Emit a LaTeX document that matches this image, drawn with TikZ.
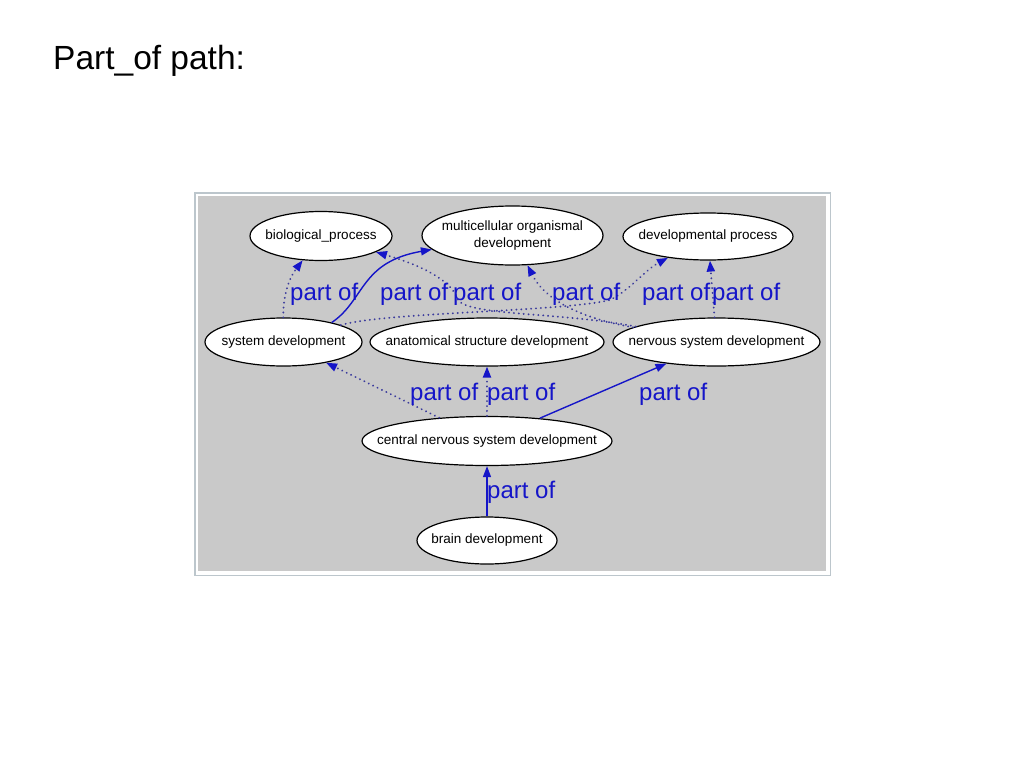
\documentclass[tikz,border=0pt]{standalone}
\usepackage{fontspec}
\setmainfont{Liberation Sans}
\usepackage{tikz}
\usetikzlibrary{shapes.geometric}
\usetikzlibrary{arrows.meta}
\tikzstyle{term} = [ellipse, draw=black, fill=white, line width=1.2pt, inner sep=0pt, font=\fontsize{13.5}{16.5}\selectfont]
\tikzstyle{po} = [lb, line width=1.4pt, -{Triangle[length=11pt,width=8pt]}]
\tikzstyle{pod} = [db, line width=2pt, dash pattern=on 0.1pt off 4.8pt, line cap=round, -{Triangle[length=11pt,width=8pt,color=lb]}]
\tikzstyle{lab} = [lb, inner sep=0pt, anchor=base west, font=\fontsize{24}{28}\selectfont]
\definecolor{lb}{HTML}{1515C8}
\definecolor{db}{HTML}{3A3A9C}
\definecolor{pnl}{HTML}{C9C9C9}
\definecolor{frm}{HTML}{BCC6CC}
\newcommand{\tm}[1]{\makebox[0pt]{#1}}

\begin{document}
\begin{tikzpicture}[x=1pt,y=-1pt]
			\fill[white] (0,0) rectangle (1024,768);
			\useasboundingbox (0,0) rectangle (1024,768);
			\node[anchor=base west,inner sep=0pt,font=\fontsize{33.5}{40}\selectfont] (title) at (53,69) {Part\_of path:};
			\fill[frm] (194,192) rectangle (831,576);
			\fill[white] (195.5,193.5) rectangle (829.5,574.5);
			\fill[pnl] (198,196) rectangle (826,571);
			\node[term,minimum width=142pt,minimum height=49pt] (bp) at (321,236) {\tm{biological\_process}};
			\node[term,minimum width=181pt,minimum height=59pt] (mod) at (512.5,235.5) {\tm{\begin{tabular}{@{}c@{}}multicellular organismal\\development\end{tabular}}};
			\node[term,minimum width=170pt,minimum height=47pt] (dp) at (708,236.5) {\tm{developmental process}};
			\node[term,minimum width=157pt,minimum height=48pt] (sd) at (283.5,342) {\tm{system development}};
			\node[term,minimum width=234pt,minimum height=48pt] (asd) at (487,342) {\tm{anatomical structure development}};
			\node[term,minimum width=207pt,minimum height=48pt] (nsd) at (716.5,342) {\tm{nervous system development}};
			\node[term,minimum width=250pt,minimum height=49pt] (cnsd) at (487,441) {\tm{central nervous system development}};
			\node[term,minimum width=140pt,minimum height=47pt] (bd) at (487,540.5) {\tm{brain development}};
			\draw[pod] (sd) .. controls (283,300) and (287,281) .. (bp);
			\draw[po] (sd.22) .. controls (365,300) and (360,262) .. (mod);
			\draw[pod] (nsd) .. controls (560,312) and (470,316) .. (458,300) .. controls (452,280) and (420,265) .. (bp);
			\draw[pod] (nsd) .. controls (580,318) and (545,300) .. (mod);
			\draw[pod] (sd) .. controls (385,312) and (560,312) .. (610,300) .. controls (630,290) and (645,270) .. (dp);
			\draw[pod] (nsd) -- (dp);
			\draw[pod] (cnsd) -- (sd);
			\draw[pod] (cnsd) -- (asd);
			\draw[po] (cnsd) -- (nsd);
			\draw[po] (bd) -- (cnsd);
			\node[lab] (l1) at (290,300) {part of};
			\node[lab] (l2) at (380,300) {part of};
			\node[lab] (l3) at (453,300) {part of};
			\node[lab] (l4) at (552,300) {part of};
			\node[lab] (l5) at (642,300) {part of};
			\node[lab] (l6) at (712,300) {part of};
			\node[lab] (l7) at (410,400) {part of};
			\node[lab] (l8) at (487,400) {part of};
			\node[lab] (l9) at (639,400) {part of};
			\node[lab] (l10) at (487,498) {part of};
		\end{tikzpicture}
\end{document}
